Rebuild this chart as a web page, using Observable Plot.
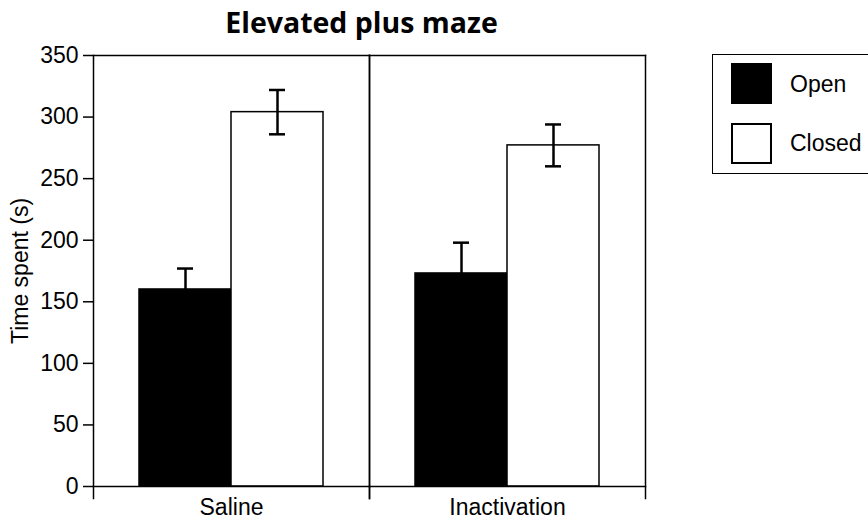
<!DOCTYPE html>
<html><head><meta charset="utf-8">
<script src="https://cdn.jsdelivr.net/npm/d3@7"></script>
<script src="https://cdn.jsdelivr.net/npm/@observablehq/plot@0.6"></script>
<style>
body{margin:0;background:#fff;overflow:hidden;}
#wrap{position:relative;width:868px;height:525px;overflow:hidden;}
#title{width:723px;height:35px;text-align:center;font-family:"Open Sans";font-weight:700;font-size:28.5px;line-height:28px;padding-top:8px;box-sizing:border-box;color:#000;white-space:nowrap;}
#legend{position:absolute;left:712px;top:54px;width:175px;height:120px;border:1.5px solid #000;box-sizing:border-box;font-family:"Liberation Sans";font-size:23px;color:#000;background:#fff;}
#legend .sw{position:absolute;left:18px;width:41px;height:41px;box-sizing:border-box;border:2px solid #000;}
#legend .lab{position:absolute;left:77px;line-height:23px;}
</style>
</head><body>
<div id="wrap">
<div id="title">Elevated plus maze</div>
<div id="chart"></div>
<div id="legend">
  <div class="sw" style="top:8px;background:#000"></div><div class="lab" style="top:18px">Open</div>
  <div class="sw" style="top:68px;background:#fff"></div><div class="lab" style="top:77px">Closed</div>
</div>
</div>
<script>
const groups = ["Saline", "Inactivation"];
const arms = ["Open", "Closed"];
const openMeans = [160, 173];
const openSEM = [17, 25];
const closedMeans = [304, 277];
const closedSEM = [18, 17];
const yTicks = [0, 50, 100, 150, 200, 250, 300, 350];

const rows = [];
groups.forEach((g, i) => {
  rows.push({group: g, arm: "Open", mean: openMeans[i], sem: openSEM[i]});
  rows.push({group: g, arm: "Closed", mean: closedMeans[i], sem: closedSEM[i]});
});

const chart = Plot.plot({
  width: 868, height: 490,
  marginTop: 20, marginBottom: 39, marginLeft: 93, marginRight: 223,
  style: {fontFamily: "Liberation Sans", fontSize: "23px", color: "#000", background: "#fff", overflow: "visible"},
  fx: {domain: groups, padding: 0},
  x: {domain: arms, paddingInner: 0, paddingOuter: 0.49, axis: null},
  y: {domain: [0, 350]},
  color: {domain: arms, range: ["#000", "#fff"]},
  marks: [
    Plot.barY(rows, {fx: "group", x: "arm", y: "mean", fill: "arm", stroke: "#000", strokeWidth: 1.5}),
    Plot.ruleX(rows, {fx: "group", x: "arm", y1: d => d.mean - d.sem, y2: d => d.mean + d.sem, stroke: "#000", strokeWidth: 2.5}),
    Plot.tickY(rows, {fx: "group", x: "arm", y: d => d.mean + d.sem, insetLeft: 38, insetRight: 38, stroke: "#000", strokeWidth: 2.5}),
    Plot.tickY(rows, {fx: "group", x: "arm", y: d => d.mean - d.sem, insetLeft: 38, insetRight: 38, stroke: "#000", strokeWidth: 2.5}),
    Plot.frame({anchor: "top", stroke: "#000", strokeWidth: 1.5}),
    Plot.frame({anchor: "bottom", stroke: "#000", strokeWidth: 1.5}),
    Plot.frame({anchor: "left", insetBottom: -12, stroke: "#000", strokeWidth: 1.5}),
    Plot.frame({anchor: "right", insetBottom: -12, stroke: "#000", strokeWidth: 1.5}),
    Plot.axisY({ticks: yTicks, tickSize: 10, tickPadding: 5, strokeWidth: 1.5, label: "Time spent (s)", labelAnchor: "center", labelArrow: "none", labelOffset: 82}),
    Plot.axisFx({anchor: "bottom", tickSize: 0, tickPadding: 12, label: null})
  ]
});
document.getElementById("chart").appendChild(chart);
</script>
</body></html>
